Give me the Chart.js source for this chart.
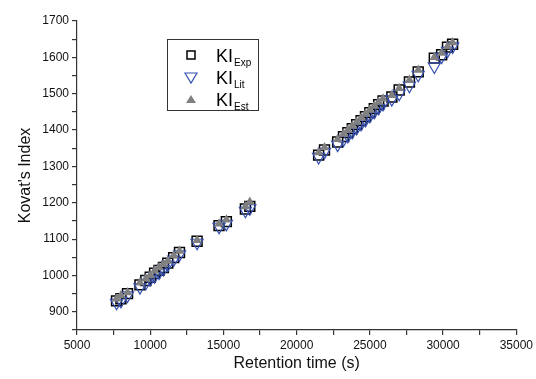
<!DOCTYPE html>
<html>
<head>
<meta charset="utf-8">
<script src="https://cdn.jsdelivr.net/npm/chart.js@4"></script>
<style>
  html, body { margin: 0; padding: 0; background: #fff; }
  #wrap { width: 536px; height: 379px; }
</style>
</head>
<body>
<div id="wrap"><canvas id="myChart" width="536" height="379"></canvas></div>
<script>
// Retention time (s)
const times = [7700, 8000, 8450, 9300, 9700, 10000, 10300, 10600, 10900, 11200, 11600, 12000, 13200, 14700, 15200, 16500, 16800,
    21500, 21900, 22800, 23200, 23500, 23800, 24100, 24400, 24700, 25000, 25300, 25600, 25900, 26500, 27000, 27700, 28300, 29400, 29900, 30300, 30650];
// Kovat's index
const kiExp = [930, 936, 950, 974, 986, 995, 1006, 1014, 1022, 1034, 1049, 1063, 1094, 1137, 1148, 1183, 1190,
    1331, 1345, 1367, 1382, 1393, 1404, 1415, 1426, 1437, 1448, 1459, 1470, 1480, 1491, 1510, 1532, 1560, 1598, 1607, 1628, 1636];
const kiLit = [925, 930, 945, 968, 980, 990, 998, 1008, 1018, 1030, 1044, 1058, 1090, 1134, 1142, 1178, 1185,
    1326, 1340, 1360, 1374, 1384, 1395, 1406, 1417, 1428, 1439, 1450, 1461, 1472, 1485, 1500, 1522, 1552, 1575, 1602, 1618, 1630];
const kiEst = [936, 945, 953, 980, 991, 1000, 1013, 1022, 1031, 1040, 1055, 1067, 1097, 1142, 1153, 1190, 1202,
    1338, 1352, 1375, 1389, 1400, 1411, 1422, 1433, 1444, 1455, 1466, 1477, 1486, 1496, 1515, 1538, 1565, 1600, 1612, 1630, 1641];

const xTicks = [5000, 10000, 15000, 20000, 25000, 30000, 35000];
const yTicks = [900, 1000, 1100, 1200, 1300, 1400, 1500, 1600, 1700];

const toPts = (ys) => ys.map((y, i) => ({ x: times[i], y: y }));

const FONT = 'Liberation Sans, Arial, sans-serif';
const BLUE = '#3550b0';
const GRAY = '#808080';

// Legend box inside the plot
const legendBox = {
    id: 'legendBox',
    afterDraw(chart) {
        const c = chart.ctx;
        c.save();
        c.strokeStyle = '#333';
        c.lineWidth = 1;
        c.strokeRect(167.5, 39.5, 91, 71);

        const mx = 191;
        // square
        c.lineWidth = 1.5;
        c.strokeStyle = '#000';
        c.strokeRect(187, 51, 8, 8);
        // inverted triangle
        c.beginPath();
        c.strokeStyle = BLUE;
        c.lineWidth = 1.2;
        c.moveTo(mx - 6, 73);
        c.lineTo(mx + 6, 73);
        c.lineTo(mx, 83);
        c.closePath();
        c.stroke();
        // filled triangle
        c.beginPath();
        c.fillStyle = GRAY;
        c.moveTo(mx, 95);
        c.lineTo(mx + 5, 103);
        c.lineTo(mx - 5, 103);
        c.closePath();
        c.fill();

        const subs = ['Exp', 'Lit', 'Est'];
        const rows = [62, 84, 106];
        c.fillStyle = '#000';
        c.textBaseline = 'alphabetic';
        rows.forEach((y, i) => {
            c.font = '18px ' + FONT;
            c.fillText('KI', 216, y);
            const w = c.measureText('KI').width;
            c.font = '10px ' + FONT;
            c.fillText(subs[i], 216 + w + 1, y + 4);
        });
        c.restore();
    }
};

const ctx = document.getElementById('myChart').getContext('2d');

const myChart = new Chart(ctx, {
    type: 'scatter',
    data: {
        datasets: [
            {
                label: 'KI Exp',
                data: toPts(kiExp),
                pointStyle: 'rect',
                pointRadius: 7,
                borderColor: '#000',
                backgroundColor: 'rgba(0,0,0,0)',
                borderWidth: 1.5,
                order: 3,
            },
            {
                label: 'KI Lit',
                data: toPts(kiLit),
                pointStyle: 'triangle',
                pointRotation: 180,
                pointRadius: 7,
                borderColor: BLUE,
                backgroundColor: 'rgba(0,0,0,0)',
                borderWidth: 1.2,
                order: 2,
            },
            {
                label: 'KI Est',
                data: toPts(kiEst),
                pointStyle: 'triangle',
                pointRadius: 5.5,
                borderColor: GRAY,
                backgroundColor: GRAY,
                borderWidth: 0,
                order: 1,
            }
        ]
    },
    options: {
        responsive: false,
        animation: false,
        events: [],
        layout: {
            padding: { top: 21, right: 19, left: 0, bottom: 0 }
        },
        plugins: {
            legend: { display: false },
            tooltip: { enabled: false }
        },
        scales: {
            x: {
                type: 'linear',
                min: 5000,
                max: 35000,
                afterFit: (s) => { s.height = 49; },
                afterBuildTicks: (s) => {
                    const t = [];
                    for (let v = 5000; v <= 35000; v += 2500) t.push({ value: v });
                    s.ticks = t;
                },
                border: { display: true, color: '#333', width: 1.2 },
                grid: { drawOnChartArea: false, tickLength: 5, color: '#333', lineWidth: 1.2 },
                ticks: {
                    padding: 3,
                    maxRotation: 0,
                    autoSkip: false,
                    color: '#111',
                    font: { family: FONT, size: 12 },
                    callback: (v) => xTicks.includes(v) ? String(v) : ''
                },
                title: {
                    display: true,
                    text: 'Retention time (s)',
                    color: '#111',
                    font: { family: FONT, size: 16 },
                    padding: { top: 0, bottom: 6 }
                }
            },
            y: {
                type: 'linear',
                min: 850,
                max: 1700,
                afterFit: (s) => { s.width = 77; },
                afterBuildTicks: (s) => {
                    const t = [];
                    for (let v = 850; v <= 1700; v += 50) t.push({ value: v });
                    s.ticks = t;
                },
                border: { display: true, color: '#333', width: 1.2 },
                grid: { drawOnChartArea: false, tickLength: 5, color: '#333', lineWidth: 1.2 },
                ticks: {
                    padding: 3,
                    autoSkip: false,
                    color: '#111',
                    font: { family: FONT, size: 12 },
                    callback: (v) => yTicks.includes(v) ? String(v) : ''
                },
                title: {
                    display: true,
                    text: "Kovat's Index",
                    color: '#111',
                    font: { family: FONT, size: 16 },
                    padding: { top: 16, bottom: 0 }
                }
            }
        }
    },
    plugins: [legendBox],
});
</script>
</body>
</html>
